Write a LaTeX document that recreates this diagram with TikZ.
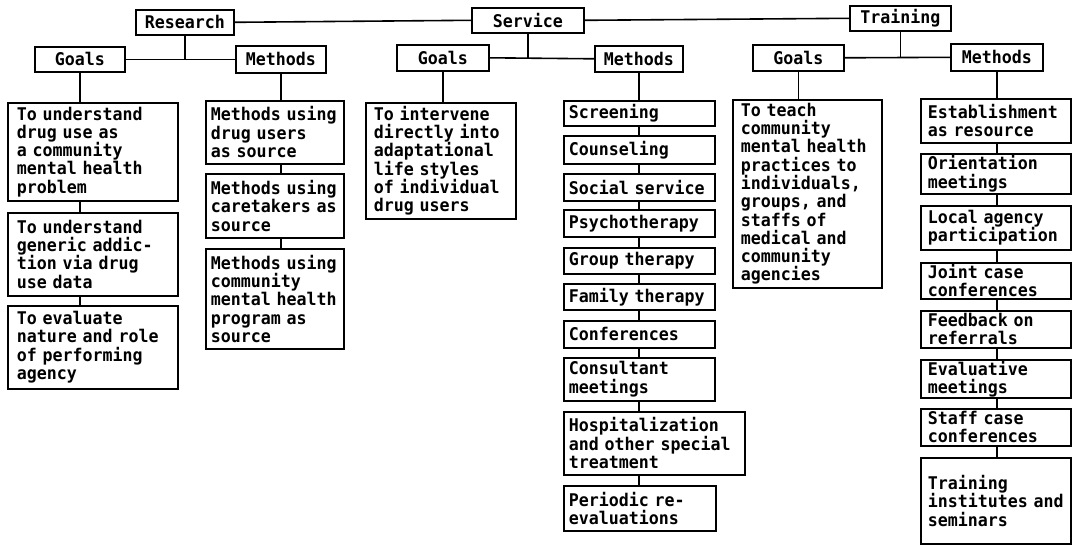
\documentclass[tikz,border=0pt]{standalone}
\usepackage{fontspec}
\newfontfamily\monof[FakeStretch=0.95]{DejaVu Sans Mono Bold}
\tikzset{
  every node/.style={font=\monof\fontsize{17.5}{18.3}\selectfont},
  hd/.style={draw, line width=1.6pt, inner sep=0pt, align=center, anchor=north west},
  bx/.style={draw, line width=1.6pt, anchor=north west, inner xsep=8pt, inner ysep=1pt, align=left},
  ln/.style={line width=1.6pt},
}
\begin{document}
\hyphenpenalty=10000
\exhyphenpenalty=10000
\begin{tikzpicture}[x=1pt,y=-1pt]
\useasboundingbox (0,0) rectangle (1082,546);
% top level
\node[hd, minimum width=98pt, minimum height=25pt] (R) at (135,9) {Research};
\node[hd, minimum width=112pt, minimum height=25pt] (S) at (471,7) {Service};
\node[hd, minimum width=101pt, minimum height=25pt] (T) at (849,5) {Training};
% second level
\node[hd, minimum width=90pt, minimum height=25pt] (RG) at (34,46) {Goals};
\node[hd, minimum width=90pt, minimum height=27pt] (RM) at (235,45) {Methods};
\node[hd, minimum width=92pt, minimum height=26pt] (SG) at (396,44) {Goals};
\node[hd, minimum width=88pt, minimum height=26pt] (SM) at (594,45) {Methods};
\node[hd, minimum width=91pt, minimum height=26pt] (TG) at (752,44) {Goals};
\node[hd, minimum width=92pt, minimum height=27pt] (TM) at (950,43) {Methods};
% research goals
\node[bx, inner xsep=9pt, text width=152pt, minimum height=98pt] (rg1) at (7,102) {To understand\\drug use as\\a community\\mental health\\problem};
\node[bx, inner xsep=9pt, text width=152pt, minimum height=83pt] (rg2) at (7,212) {To understand\\generic addic-\\tion via drug\\use data};
\node[bx, inner xsep=9pt, text width=152pt, minimum height=83pt] (rg3) at (7,305) {To evaluate\\nature and role\\of performing\\agency};
% research methods
\node[bx, inner xsep=5pt, text width=128pt, minimum height=63pt] (rm1) at (205,100) {Methods using\\drug users\\as source};
\node[bx, inner xsep=5pt, text width=128pt, minimum height=64pt] (rm2) at (205,173) {Methods using\\caretakers as\\source};
\node[bx, inner xsep=5pt, text width=128pt, minimum height=100pt] (rm3) at (205,248) {Methods using\\community\\mental health\\program as\\source};
% service goals
\node[bx, text width=134pt, minimum height=116pt] (sg1) at (365,102) {To intervene\\directly into\\adaptational\\life styles\\of individual\\drug users};
% service methods
\node[bx, inner xsep=5pt, text width=141pt, minimum height=25pt] (sm1) at (563,100) {Screening};
\node[bx, inner xsep=5pt, text width=141pt, minimum height=28pt] (sm2) at (563,135) {Counseling};
\node[bx, inner xsep=5pt, text width=141pt, minimum height=27pt] (sm3) at (563,173) {Social service};
\node[bx, inner xsep=5pt, text width=141pt, minimum height=27pt] (sm4) at (563,209) {Psychotherapy};
\node[bx, inner xsep=5pt, text width=141pt, minimum height=26pt] (sm5) at (563,247) {Group therapy};
\node[bx, inner xsep=5pt, text width=141pt, minimum height=26pt] (sm6) at (563,283) {Family therapy};
\node[bx, inner xsep=5pt, text width=141pt, minimum height=27pt] (sm7) at (563,320) {Conferences};
\node[bx, inner xsep=5pt, text width=141pt, minimum height=43pt] (sm8) at (563,357) {Consultant\\meetings};
\node[bx, inner xsep=5pt, text width=171pt, minimum height=63pt] (sm9) at (563,411) {Hospitalization\\and other special\\treatment};
\node[bx, inner xsep=5pt, text width=142pt, minimum height=45pt] (sm10) at (563,485) {Periodic re-\\evaluations};
% training goals
\node[bx, text width=133pt, minimum height=188pt] (tg1) at (732,99) {To teach\\community\\mental health\\practices to\\individuals,\\groups, and\\staffs of\\medical and\\community\\agencies};
% training methods
\node[bx, inner xsep=7pt, text width=136pt, minimum height=44pt] (tm1) at (920,98) {Establishment\\as resource};
\node[bx, inner xsep=7pt, text width=136pt, minimum height=40pt] (tm2) at (920,153) {Orientation\\meetings};
\node[bx, inner xsep=7pt, text width=136pt, minimum height=44pt] (tm3) at (920,205) {Local agency\\participation};
\node[bx, inner xsep=7pt, text width=136pt, minimum height=36pt] (tm4) at (920,262) {Joint case\\conferences};
\node[bx, inner xsep=7pt, text width=136pt, minimum height=37pt] (tm5) at (920,310) {Feedback on\\referrals};
\node[bx, inner xsep=7pt, text width=136pt, minimum height=38pt] (tm6) at (920,359) {Evaluative\\meetings};
\node[bx, inner xsep=7pt, text width=136pt, minimum height=37pt] (tm7) at (920,408) {Staff case\\conferences};
\node[bx, inner xsep=7pt, text width=136pt, minimum height=86pt] (tm8) at (920,457) {Training\\institutes and\\seminars};
% connectors: top
\draw[ln] (R.east) -- (S.west);
\draw[ln] (S.east) -- (T.west);
\draw[ln] (RG.east) -- (RM.west);
\draw[ln] (SG.east) -- (SM.west);
\draw[ln] (TG.east) -- (TM.west);
\draw[ln] (R.south) -- (R.south |- RG.east);
\draw[ln] (S.south) -- (S.south |- SG.east);
\draw[ln] (T.south) -- (T.south |- TG.east);
% connectors: columns
\draw[ln] (RG.south) -- (RG.south |- rg1.north);
\foreach \a/\b in {rg1/rg2, rg2/rg3}
  \draw[ln] (\a.south -| RG.south) -- (\b.north -| RG.south);
\draw[ln] (RM.south) -- (RM.south |- rm1.north);
\foreach \a/\b in {rm1/rm2, rm2/rm3}
  \draw[ln] (\a.south -| RM.south) -- (\b.north -| RM.south);
\draw[ln] (SG.south) -- (SG.south |- sg1.north);
\draw[ln] (SM.south) -- (SM.south |- sm1.north);
\foreach \a/\b in {sm1/sm2, sm2/sm3, sm3/sm4, sm4/sm5, sm5/sm6, sm6/sm7, sm7/sm8, sm8/sm9, sm9/sm10}
  \draw[ln] (\a.south -| SM.south) -- (\b.north -| SM.south);
\draw[ln] (TG.south) -- (TG.south |- tg1.north);
\draw[ln] (TM.south) -- (TM.south |- tm1.north);
\foreach \a/\b in {tm1/tm2, tm2/tm3, tm3/tm4, tm4/tm5, tm5/tm6, tm6/tm7, tm7/tm8}
  \draw[ln] (\a.south -| TM.south) -- (\b.north -| TM.south);
\end{tikzpicture}
\end{document}
